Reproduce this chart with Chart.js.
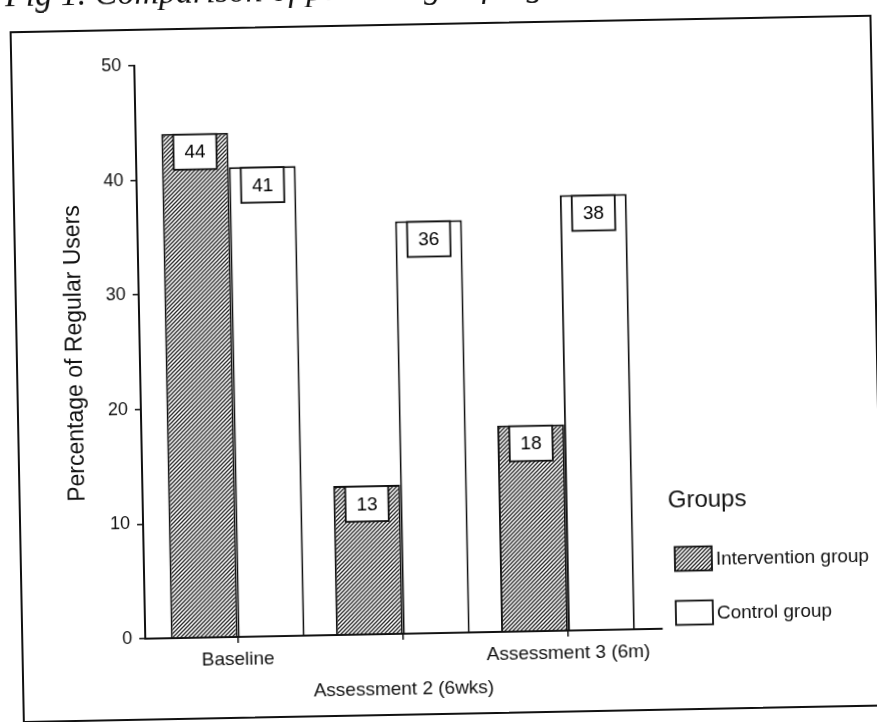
<!DOCTYPE html>
<html>
<head>
<meta charset="utf-8">
<title>Regular users by group</title>
<script src="https://cdn.jsdelivr.net/npm/chart.js@4.4.1/dist/chart.umd.min.js"></script>
<style>
  html, body { margin: 0; padding: 0; background: #fff; width: 877px; height: 722px; overflow: hidden; }
  /* the printed sheet sits slightly askew */
  #sheet {
    position: absolute; left: 0; top: 0; width: 877px; height: 722px;
    transform: rotate(-1.1deg); transform-origin: 438.5px 361px;
  }
  #caption {
    position: absolute; left: 12px; top: -30px; z-index: 2;
    font: italic 34px/34px "Liberation Serif", "Times New Roman", serif;
    color: #111; white-space: nowrap;
  }
  #frame {
    position: absolute; left: 16px; top: 23px; width: 858px; height: 688px;
    border: 2px solid #111;
  }
  #chart { position: absolute; left: 0; top: 0; }
</style>
</head>
<body>
<div id="sheet">
  <div id="caption">Fig 1. Comparison of percentage of regular users</div>
  <div id="frame"></div>
  <canvas id="chart" width="877" height="722"></canvas>
</div>
<script>
// ---- data ----
const categories = ['Baseline', 'Assessment 2 (6wks)', 'Assessment 3 (6m)'];
const interventionGroup = [44, 13, 18];
const controlGroup = [41, 36, 38];
const seriesNames = ['Intervention group', 'Control group'];
const yTickValues = [0, 10, 20, 30, 40, 50];
const yAxisTitle = 'Percentage of Regular Users';
const legendTitle = 'Groups';

// ---- styling ----
const INK = '#111111';
const SANS = "'Liberation Sans', Arial, Helvetica, sans-serif";
Chart.defaults.font.family = SANS;
Chart.defaults.color = INK;

const canvas = document.getElementById('chart');
const ctx = canvas.getContext('2d');

// diagonal "////" hatch used for the intervention bars
function makeHatch() {
  const s = 4;
  const tile = document.createElement('canvas');
  tile.width = s; tile.height = s;
  const g = tile.getContext('2d');
  g.fillStyle = '#ffffff';
  g.fillRect(0, 0, s, s);
  g.strokeStyle = '#262626';
  g.lineWidth = 1.3;
  g.beginPath();
  g.moveTo(-1, s + 1); g.lineTo(s + 1, -1);
  g.moveTo(-1, 1); g.lineTo(1, -1);
  g.moveTo(s - 1, s + 1); g.lineTo(s + 1, s - 1);
  g.stroke();
  return ctx.createPattern(tile, 'repeat');
}
const hatch = makeHatch();
const seriesFills = [hatch, '#ffffff'];

// boxed value label sitting at the top of every bar
const valueBoxes = {
  id: 'valueBoxes',
  afterDatasetsDraw(chart) {
    const c = chart.ctx;
    c.save();
    chart.data.datasets.forEach((ds, di) => {
      chart.getDatasetMeta(di).data.forEach((bar, i) => {
        const w = 43, h = 35;
        const left = bar.x - w / 2;
        const top = bar.y + 1;
        c.fillStyle = '#ffffff';
        c.fillRect(left, top, w, h);
        c.strokeStyle = INK;
        c.lineWidth = 1.8;
        c.strokeRect(left, top, w, h);
        c.fillStyle = '#000000';
        c.font = '19px ' + SANS;
        c.textAlign = 'center';
        c.textBaseline = 'middle';
        c.fillText(String(ds.data[i].y), bar.x, top + h / 2 + 1);
      });
    });
    c.restore();
  }
};

// "Groups" key to the right of the plot
const groupsLegend = {
  id: 'groupsLegend',
  afterDraw(chart) {
    const c = chart.ctx;
    const area = chart.chartArea;
    const x0 = area.right + 8;
    const boxX = area.right + 14;
    const boxW = 37, boxH = 24;
    const rows = [area.bottom - 69.5, area.bottom - 15.5];
    c.save();
    c.fillStyle = INK;
    c.textAlign = 'left';
    c.textBaseline = 'middle';
    c.font = '24px ' + SANS;
    c.fillText(legendTitle, x0, area.bottom - 128);
    c.font = '19px ' + SANS;
    seriesNames.forEach((name, i) => {
      const cy = rows[i];
      c.fillStyle = seriesFills[i];
      c.fillRect(boxX, cy - boxH / 2, boxW, boxH);
      c.strokeStyle = INK;
      c.lineWidth = 1.8;
      c.strokeRect(boxX, cy - boxH / 2, boxW, boxH);
      c.fillStyle = INK;
      c.fillText(name, boxX + boxW + 4, cy + 1);
    });
    c.restore();
  }
};

const toPoints = vals => vals.map((v, i) => ({ x: i, y: v }));
const barStyle = {
  borderColor: INK,
  borderWidth: 2,
  borderSkipped: 'bottom',
  categoryPercentage: 0.81,
  barPercentage: 1.0
};

new Chart(ctx, {
  type: 'bar',
  data: {
    datasets: [
      Object.assign({ label: seriesNames[0], data: toPoints(interventionGroup), backgroundColor: seriesFills[0] }, barStyle),
      Object.assign({ label: seriesNames[1], data: toPoints(controlGroup), backgroundColor: seriesFills[1] }, barStyle)
    ]
  },
  options: {
    responsive: false,
    animation: false,
    layout: { padding: { top: 60, right: 220, bottom: 0, left: 0 } },
    plugins: {
      legend: { display: false },
      tooltip: { enabled: false },
      title: { display: false }
    },
    scales: {
      x: {
        type: 'linear',
        min: -0.56,
        max: 2.57,
        offset: false,
        afterBuildTicks: s => { s.ticks = categories.map((_, i) => ({ value: i })); },
        afterFit: s => { s.height = 89; },
        grid: { offset: false, drawOnChartArea: false, drawTicks: true, tickLength: 6, color: INK, lineWidth: 1.5 },
        border: { display: true, color: INK, width: 2 },
        ticks: {
          autoSkip: false,
          maxRotation: 0,
          minRotation: 0,
          padding: 1,
          color: INK,
          font: { size: 19, lineHeight: 1.7 },
          callback: v => {
            const i = Math.round(v);
            const text = categories[i];
            return i % 2 === 1 ? ['', text] : text;
          }
        }
      },
      y: {
        min: 0,
        max: 50,
        afterBuildTicks: s => { s.ticks = yTickValues.map(v => ({ value: v })); },
        afterFit: s => { s.width = 140; },
        grid: { drawOnChartArea: false, drawTicks: true, tickLength: 6, color: INK, lineWidth: 1.5 },
        border: { display: true, color: INK, width: 2 },
        ticks: { padding: 7, color: INK, font: { size: 18 } },
        title: {
          display: true,
          text: yAxisTitle,
          color: INK,
          font: { size: 23 },
          padding: { top: 62, bottom: 0 }
        }
      }
    }
  },
  plugins: [valueBoxes, groupsLegend]
});
</script>
</body>
</html>
